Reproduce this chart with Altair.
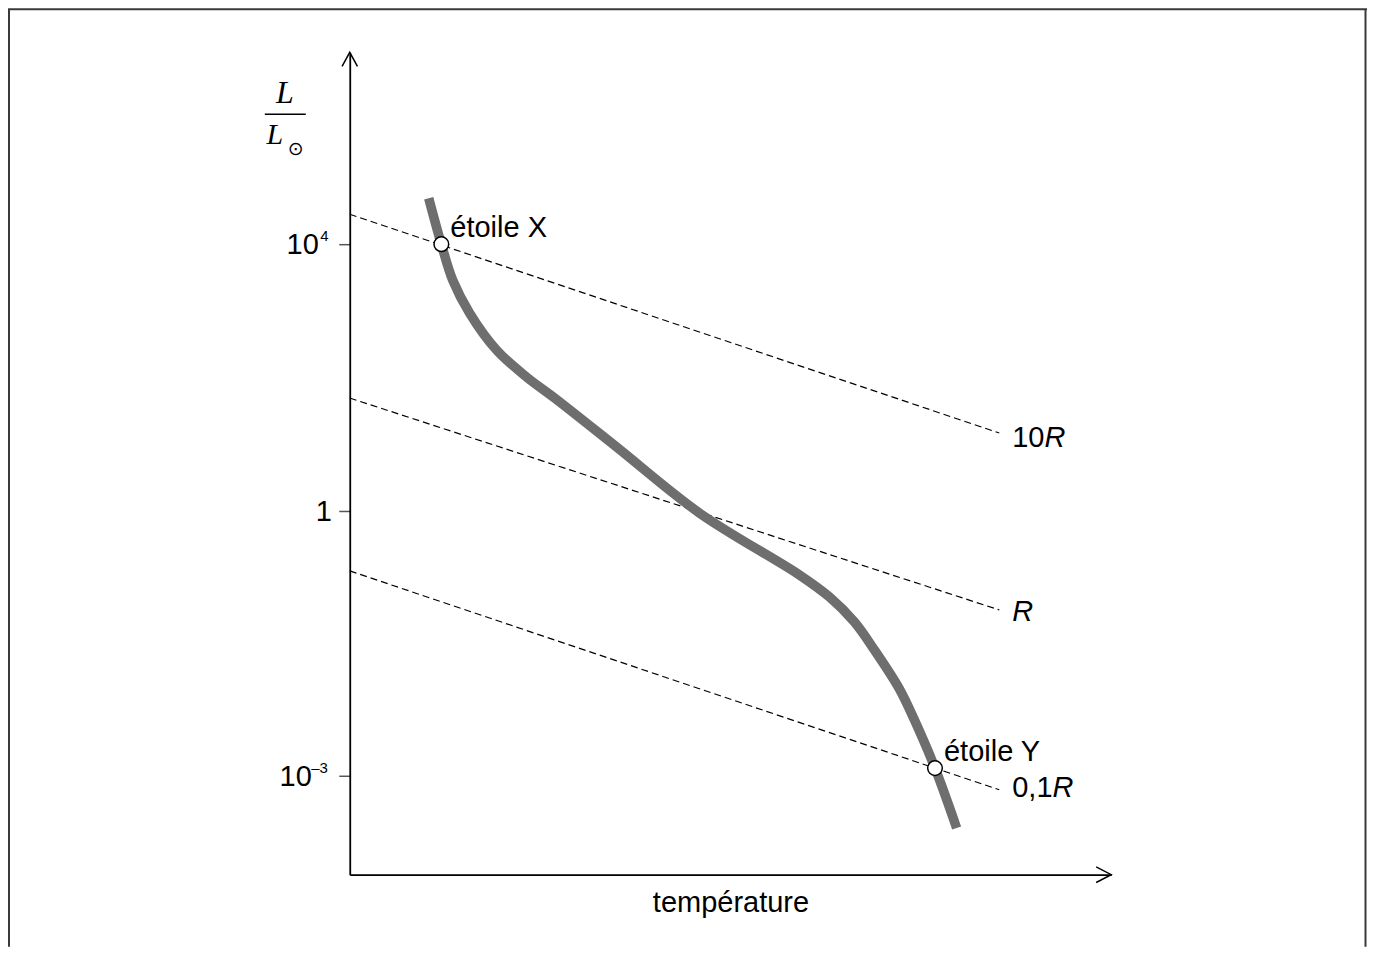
import altair as alt
import pandas as pd

# ---------------- data (schematic H-R diagram) ----------------
# x: temperature, arbitrary units 0..100 ; y: log10(L / L_sun)
curve_t = [10.37, 12.03, 13.52, 15.75, 19.29, 23.23, 26.90, 35.04, 45.93,
           59.06, 62.99, 66.27, 68.90, 72.18, 74.15, 76.86, 79.70]
curve_logL = [4.689, 4.0, 3.461, 2.966, 2.412, 2.007, 1.693, 0.959, -0.023,
              -0.725, -0.974, -1.257, -1.574, -2.015, -2.366, -2.913, -3.592]

radius_names = ["10R", "R", "0,1R"]
radius_prefix = ["10", "", "0,1"]
radius_t_start = [0.0, 0.0, 0.0]
radius_t_end = [85.30, 85.30, 85.30]
radius_logL_start = [4.449, 1.693, -0.679]
radius_logL_end = [1.169, -1.121, -3.159]

star_names = ["étoile X", "étoile Y"]
star_t = [12.03, 76.86]
star_logL = [4.0, -2.913]

tick_values = [4, 0, -3]
tick_base = ["10", "1", "10"]
tick_exp = ["4", "", "–3"]

# ---------------- layout ----------------
W, H = 762, 823
PAD = {"left": 342, "top": 44, "right": 256, "bottom": 72}
FONT = "Liberation Sans"
FS = 29

xs = alt.Scale(domain=[0, 100], nice=False, zero=False)
ys = alt.Scale(domain=[-4.121, 0, 4, 6.876], range=[H, 459, 192, 0], nice=False, zero=False)

x_axis = alt.Axis(title="température", labels=False, ticks=False, grid=False,
                  domainColor="black", domainWidth=1.8, titleFontSize=FS,
                  titleFontWeight="normal", titleColor="black", titlePadding=14,
                  titleFont=FONT)
y_axis = alt.Axis(title="", values=tick_values, labels=False, tickSize=11,
                  tickWidth=1.5, tickColor="#555555", grid=False,
                  domainColor="black", domainWidth=1.8)


def xy():
    return dict(x=alt.X("t:Q", scale=xs, axis=x_axis, title="température"),
                y=alt.Y("logL:Q", scale=ys, axis=y_axis, title=""))


curve_df = pd.DataFrame({"t": curve_t, "logL": curve_logL, "o": list(range(len(curve_t)))})
rows = []
for n, a, b, ya, yb in zip(radius_names, radius_t_start, radius_t_end,
                           radius_logL_start, radius_logL_end):
    rows.append({"name": n, "t": a, "logL": ya})
    rows.append({"name": n, "t": b, "logL": yb})
lines_df = pd.DataFrame(rows)
stars_df = pd.DataFrame({"name": star_names, "t": star_t, "logL": star_logL})
ticks_df = pd.DataFrame({"logL": tick_values, "base": tick_base, "exp": tick_exp})
one = pd.DataFrame({"k": [0]})

lines = alt.Chart(lines_df).mark_line(color="black", strokeWidth=1.2, strokeDash=[7, 4]).encode(
    detail="name:N", **xy())

curve = alt.Chart(curve_df).mark_line(color="#6e6e6e", strokeWidth=9.5,
                                      interpolate="catmull-rom").encode(
    order="o:O", **xy())

stars = alt.Chart(stars_df).mark_point(shape="circle", size=215, filled=True, fill="white",
                                       stroke="black", strokeWidth=1.5, opacity=1).encode(**xy())

star_text = alt.Chart(stars_df).mark_text(align="left", baseline="middle", dx=9, dy=-16,
                                          fontSize=FS, font=FONT, color="black").encode(
    text="name:N", **xy())

end_df = pd.DataFrame({"name": radius_names, "prefix": radius_prefix,
                       "t": radius_t_end, "logL": radius_logL_end})
label_dy = {"10R": 5, "R": 2, "0,1R": -2}
prefix_w = {"10": 32.3, "": 0.0, "0,1": 40.3}
radius_text = []
for n, p in zip(radius_names, radius_prefix):
    sub = alt.Chart(end_df).transform_filter(alt.datum.name == n)
    if p:
        radius_text.append(sub.mark_text(align="left", baseline="middle", dx=13, dy=label_dy[n],
                                         fontSize=FS, font=FONT, color="black")
                           .encode(text="prefix:N", **xy()))
    radius_text.append(sub.mark_text(align="left", baseline="middle", dx=13 + prefix_w[p],
                                     dy=label_dy[n], fontSize=FS, font=FONT,
                                     fontStyle="italic", color="black")
                       .encode(text=alt.value("R"), **xy()))

# tick labels with raised exponents
base_right = {4: -31, 0: -18, -3: -38}
tick_text = []
for v in tick_values:
    sub = alt.Chart(ticks_df).transform_filter(alt.datum.logL == v)
    yenc = alt.Y("logL:Q", scale=ys, axis=y_axis, title="")
    tick_text.append(sub.mark_text(align="right", baseline="middle", dy=1, fontSize=FS,
                                   font=FONT, color="black")
                     .encode(x=alt.value(base_right[v]), y=yenc, text="base:N"))
    tick_text.append(sub.mark_text(align="left", baseline="middle", dy=-8, fontSize=15,
                                   font=FONT, color="black")
                     .encode(x=alt.value(base_right[v] + 1.5 if v == 4 else base_right[v] - 0.5),
                             y=yenc, text="exp:N"))

# axis arrows
arrow_up = alt.Chart(one).mark_point(shape="M-0.55,1L0,0L0.55,1", size=784, filled=False,
                                     stroke="black", strokeWidth=1.5, opacity=1).encode(
    x=alt.value(0), y=alt.value(0))
arrow_right = alt.Chart(one).mark_point(shape="M-1,-0.52L0,0L-1,0.52", size=900, filled=False,
                                        stroke="black", strokeWidth=1.5, opacity=1).encode(
    x=alt.value(W), y=alt.value(H))

# y-axis title L / L_sun
num = alt.Chart(one).mark_text(font="Liberation Serif", fontStyle="italic", fontSize=32,
                               align="center", baseline="alphabetic", color="black").encode(
    x=alt.value(-65), y=alt.value(51), text=alt.value("L"))
bar = alt.Chart(one).mark_rule(color="black", strokeWidth=1.3).encode(
    x=alt.value(-85), x2=alt.value(-44), y=alt.value(62))
den = alt.Chart(one).mark_text(font="Liberation Serif", fontStyle="italic", fontSize=30,
                               align="center", baseline="alphabetic", color="black").encode(
    x=alt.value(-75), y=alt.value(92), text=alt.value("L"))
sun = alt.Chart(one).mark_text(font="DejaVu Sans", fontSize=19, align="center",
                               baseline="middle", color="black").encode(
    x=alt.value(-54), y=alt.value(96.5), text=alt.value("⊙"))

# outer frame (left, top, right)
FR = "#3a3a3a"
f_left = alt.Chart(one).mark_rule(color=FR, strokeWidth=2).encode(
    x=alt.value(-341), y=alt.value(-43), y2=alt.value(H + PAD["bottom"]))
f_top = alt.Chart(one).mark_rule(color=FR, strokeWidth=2).encode(
    x=alt.value(-342), x2=alt.value(W + PAD["right"]), y=alt.value(-43))
f_right = alt.Chart(one).mark_rule(color=FR, strokeWidth=2).encode(
    x=alt.value(W + PAD["right"] - 1.5), y=alt.value(-43), y2=alt.value(H + PAD["bottom"]))

chart = alt.layer(
    lines, curve, stars, star_text, *radius_text, *tick_text,
    arrow_up, arrow_right, num, bar, den, sun, f_left, f_top, f_right,
).properties(
    width=W, height=H, padding=PAD, autosize="none",
).configure(font=FONT).configure_view(strokeWidth=0)

chart.save("out.html", embed_options={"renderer": "svg", "actions": False})
